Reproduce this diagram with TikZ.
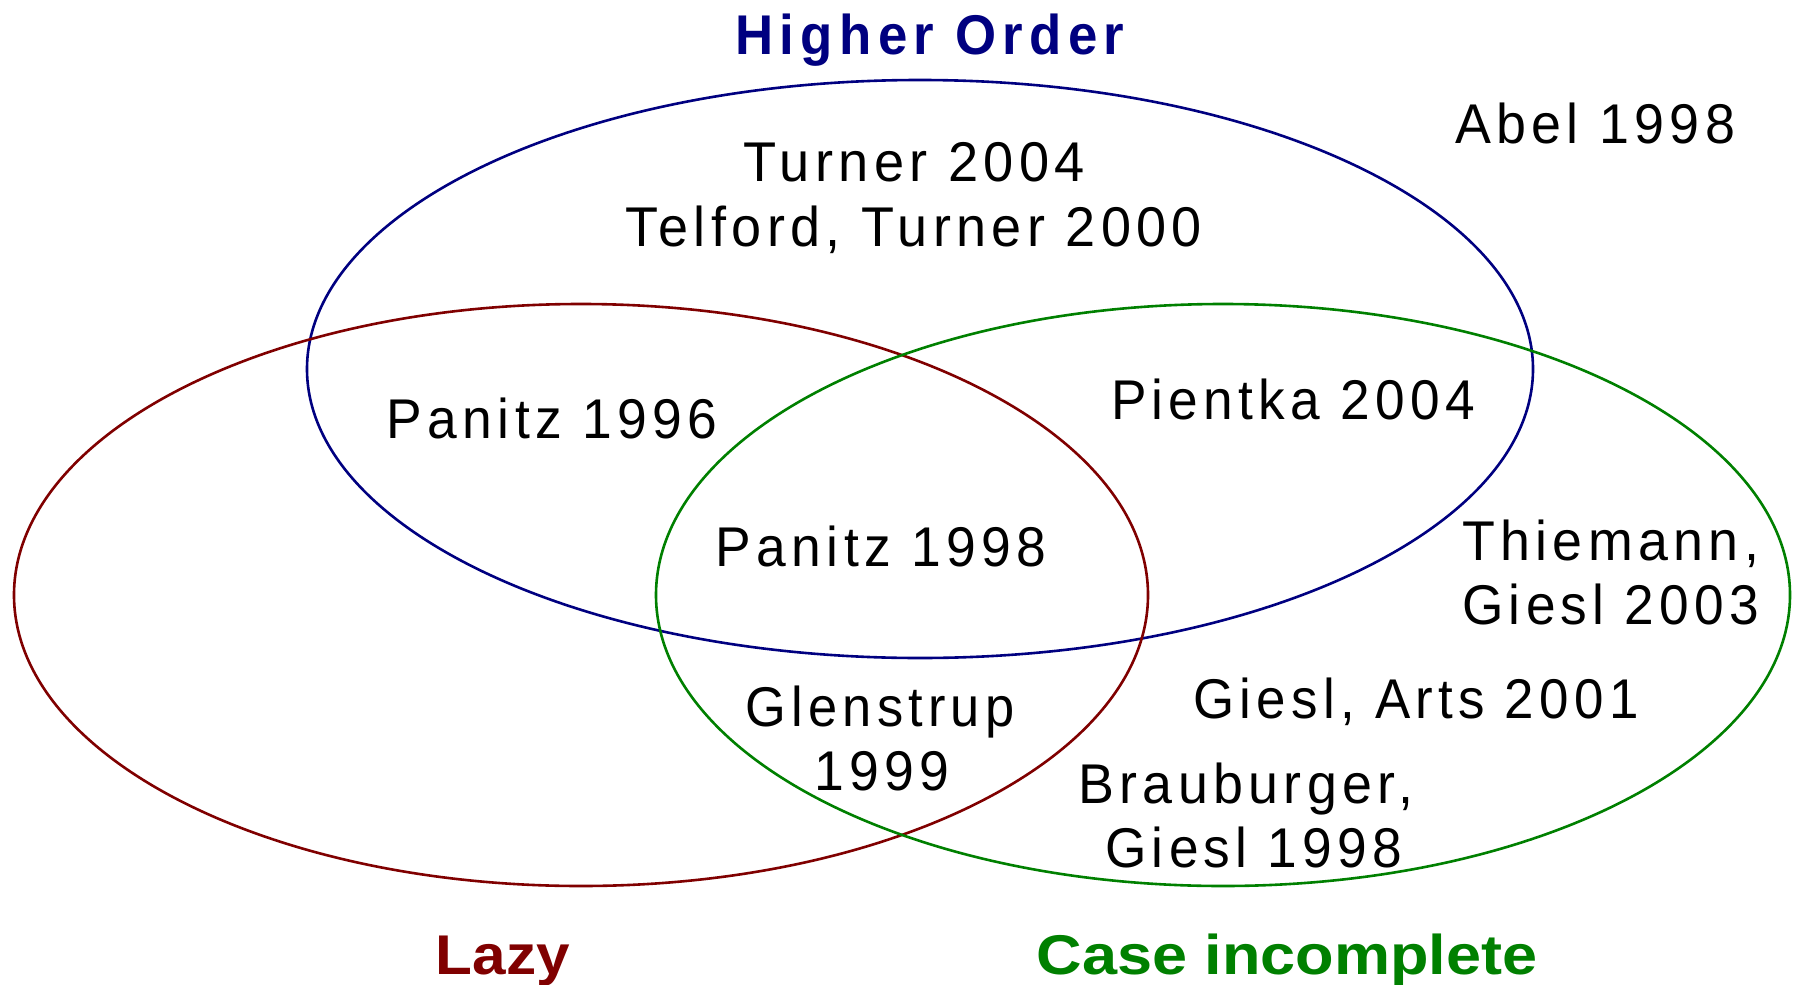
\documentclass[tikz,border=0pt]{standalone}
\usepackage{fontspec}
\setmainfont{Liberation Sans}
\newfontfamily\spaced{Liberation Sans}[LetterSpace=10]
\newfontfamily\spacedbold{Liberation Sans Bold}[LetterSpace=12]
\usepackage{graphicx}
\definecolor{hoblue}{RGB}{0,0,128}
\definecolor{lzred}{RGB}{128,0,0}
\definecolor{cigreen}{RGB}{0,128,0}
\newcommand\fitw[2]{\resizebox{#1pt}{\height}{#2}}
\tikzset{
  lbl/.style={anchor=base, inner sep=0pt, font=\fontsize{56}{64}\selectfont\spaced},
  ttl/.style={anchor=base, inner sep=0pt, font=\fontsize{56}{64}\selectfont\bfseries},
  setline/.style={line width=2.6pt}
}
\begin{document}
\begin{tikzpicture}[x=1pt,y=-1pt]
\useasboundingbox (0,0) rectangle (1799,985);
\fill[white] (0,0) rectangle (1799,985);
% sets
\draw[setline, hoblue] (920,369) ellipse [x radius=613, y radius=289];
\draw[setline, lzred] (581,595) ellipse [x radius=567, y radius=291];
\draw[setline, cigreen] (1223,595) ellipse [x radius=567, y radius=291];
% titles
\node[ttl, text=hoblue, font=\fontsize{56}{64}\selectfont\spacedbold] (tHO) at (930,54) {\fitw{389}{Higher Order}};
\node[ttl, text=lzred] (tLZ) at (503,974) {\fitw{134}{Lazy}};
\node[ttl, text=cigreen] (tCI) at (1287,974) {\fitw{501}{Case incomplete}};
% entries
\node[lbl] (turner) at (914,181) {\fitw{342}{Turner 2004}};
\node[lbl] (telford) at (914,246) {\fitw{576}{Telford, Turner 2000}};
\node[lbl] (abel) at (1595,143) {\fitw{280}{Abel 1998}};
\node[lbl] (pan96) at (552,438) {\fitw{330}{Panitz 1996}};
\node[lbl] (pientka) at (1293,419) {\fitw{364}{Pientka 2004}};
\node[lbl] (pan98) at (881,566) {\fitw{330}{Panitz 1998}};
\node[lbl, anchor=base west] (thie) at (1462,560) {\fitw{297}{Thiemann,}};
\node[lbl, anchor=base west] (thie2) at (1462,624) {\fitw{297}{Giesl 2003}};
\node[lbl] (arts) at (1416,718) {\fitw{445}{Giesl, Arts 2001}};
\node[lbl] (glen) at (880,726) {\fitw{269}{Glenstrup}};
\node[lbl] (glen2) at (882,790) {\fitw{135}{1999}};
\node[lbl, anchor=base west] (brau) at (1078,803) {\fitw{335}{Brauburger,}};
\node[lbl, anchor=base west] (brau2) at (1105,867) {\fitw{297}{Giesl 1998}};
\end{tikzpicture}
\end{document}
